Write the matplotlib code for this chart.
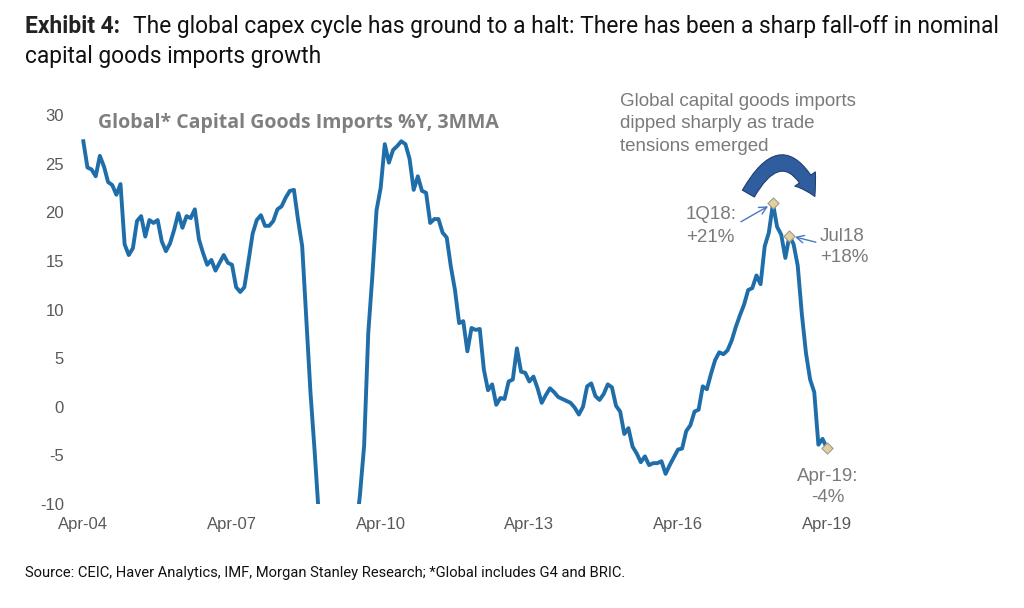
import numpy as np
import matplotlib.pyplot as plt
import matplotlib.patches as mpatches

plt.rcParams['axes.unicode_minus'] = False

# Global* capital goods imports %Y, 3MMA - monthly, Apr-04 .. Apr-19
imports_yoy = [
    27.3, 24.6, 24.4, 23.7, 25.8, 24.7, 23.1, 22.8, 21.8, 22.9,
    16.7, 15.6, 16.3, 19.1, 19.6, 17.5, 19.2, 18.9, 19.2, 17.0,
    16.0, 16.8, 18.2, 19.9, 18.4, 19.6, 19.4, 20.3, 17.2, 15.8,
    14.6, 15.1, 14.0, 14.8, 15.6, 14.8, 14.6, 12.3, 11.8, 12.3,
    15.0, 17.8, 19.2, 19.7, 18.6, 18.6, 19.1, 20.3, 20.6, 21.5,
    22.2, 22.3, 19.2, 16.5, 9.0, 1.5, -4.5, -11.0, -16.0, -21.0,
    -25.0, -28.0, -29.0, -27.5, -24.0, -19.0, -13.0, -9.0, -4.0, 7.6,
    13.5, 20.2, 22.5, 27.0, 25.1, 26.4, 26.8, 27.3, 27.0, 25.5,
    22.3, 23.7, 22.2, 22.0, 18.9, 19.3, 19.3, 17.9, 17.4, 14.4,
    12.0, 8.6, 8.8, 5.7, 8.1, 7.9, 8.0, 3.8, 1.7, 2.3,
    0.2, 0.9, 0.8, 2.6, 2.8, 6.0, 3.6, 3.5, 2.6, 3.1,
    1.9, 0.4, 1.2, 1.9, 1.5, 1.0, 0.8, 0.6, 0.4, -0.1,
    -0.8, 0.0, 2.1, 2.4, 1.1, 0.7, 1.3, 2.3, 2.0, 0.1,
    -0.5, -2.8, -2.2, -4.1, -4.8, -5.7, -5.1, -6.0, -5.8, -5.8,
    -5.6, -6.9, -6.0, -5.2, -4.4, -4.3, -2.5, -1.9, -0.5, -0.3,
    2.1, 1.8, 3.4, 4.8, 5.6, 5.4, 5.8, 6.8, 8.2, 9.4,
    10.5, 12.0, 12.2, 13.5, 12.6, 16.5, 17.9, 20.9, 18.5, 17.7,
    15.3, 17.6, 16.7, 14.5, 9.5, 5.5, 2.8, 1.5, -3.9, -3.3, -4.2,
]

tick_pos = [0, 36, 72, 108, 144, 180]
tick_labels = ['Apr-04', 'Apr-07', 'Apr-10', 'Apr-13', 'Apr-16', 'Apr-19']
y_ticks = [-10, -5, 0, 5, 10, 15, 20, 25, 30]

# highlighted points: 1Q18, Jul18, Apr-19
mark_idx = [167, 171, 180]

months = np.arange(len(imports_yoy))
vals = np.array(imports_yoy)

fig = plt.figure(figsize=(10.24, 6.08), dpi=100)
ax = fig.add_axes([79.2 / 1024, 104 / 608, 755.7 / 1024, 389 / 608])

ax.plot(months, vals, color='#1f6eaa', lw=2.8, solid_joinstyle='round', zorder=3)
ax.scatter(months[mark_idx], vals[mark_idx], marker='D', s=32, color='#e3d19c',
           edgecolors='#9a9a9a', linewidths=0.8, zorder=4)

ax.set_xlim(-1, 182)
ax.set_ylim(-10, 30)
ax.set_xticks(tick_pos)
ax.set_xticklabels(tick_labels)
ax.set_yticks(y_ticks)
ax.tick_params(length=0, labelsize=12, colors='#595959', labelcolor='#595959')
ax.tick_params(axis='x', pad=9)
ax.tick_params(axis='y', pad=11)
for lbl in ax.get_xticklabels() + ax.get_yticklabels():
    lbl.set_fontfamily('Liberation Sans')
for s in ax.spines.values():
    s.set_visible(False)

# chart title inside the plot
fig.text(98 / 1024, 1 - 128 / 608, 'Global* Capital Goods Imports %Y, 3MMA',
         fontsize=14, fontweight='bold', color='#7f7f7f', family='Open Sans',
         va='baseline')

# exhibit title
fig.text(25 / 1024, 1 - 33 / 608, 'Exhibit 4:', fontsize=16.4, fontweight='bold',
         color='#222222', family='Roboto', va='baseline')
fig.text(133 / 1024, 1 - 33 / 608,
         'The global capex cycle has ground to a halt: There has been a sharp fall-off in nominal',
         fontsize=16.4, color='#111111', family='Roboto', va='baseline')
fig.text(25 / 1024, 1 - 63 / 608, 'capital goods imports growth', fontsize=16.4,
         color='#111111', family='Roboto', va='baseline')

# source
fig.text(25 / 1024, 1 - 577 / 608,
         'Source: CEIC, Haver Analytics, IMF, Morgan Stanley Research; *Global includes G4 and BRIC.',
         fontsize=10.6, color='#111111', family='Roboto', va='baseline')

# annotation text
txt_col = '#7a7a7a'
fig.text(620 / 1024, 1 - 93 / 608,
         'Global capital goods imports\ndipped sharply as trade\ntensions emerged',
         fontsize=13.5, color=txt_col, family='Liberation Sans', va='top',
         linespacing=1.42, ma='left')

# big curved arrow
big_arrow = mpatches.FancyArrowPatch(
    (747 / 1024, 1 - 196 / 608), (816 / 1024, 1 - 199 / 608),
    transform=fig.transFigure, connectionstyle='arc3,rad=-1.0',
    arrowstyle=mpatches.ArrowStyle.Simple(head_length=0.8, head_width=1.0, tail_width=0.55),
    mutation_scale=18, color='#2f5d9e', ec='#1f3f70', lw=0.8)
fig.patches.append(big_arrow)

# point labels
lbl_kw = dict(textcoords='figure pixels', fontsize=13.5, color=txt_col,
              family='Liberation Sans', va='center')
ax.annotate('1Q18:\n+21%', xy=(months[167], vals[167]), xytext=(686, 608 - 226),
            ha='left', linespacing=1.45, **lbl_kw,
            arrowprops=dict(arrowstyle='->', color='#4a78c0', lw=1.0, shrinkA=1, shrinkB=4,
                            relpos=(1, 0.55)))
ax.annotate('Jul18\n+18%', xy=(months[171], vals[171]), xytext=(820, 608 - 247),
            ha='left', linespacing=1.3, **lbl_kw,
            arrowprops=dict(arrowstyle='->', color='#4a78c0', lw=1.0, shrinkA=1, shrinkB=4,
                            relpos=(0, 0.6)))
fig.text(828 / 1024, 1 - 487 / 608, 'Apr-19:\n-4%', fontsize=13.5, color=txt_col,
         family='Liberation Sans', ha='center', va='center', linespacing=1.3)

fig.savefig('out.png', dpi=100)
